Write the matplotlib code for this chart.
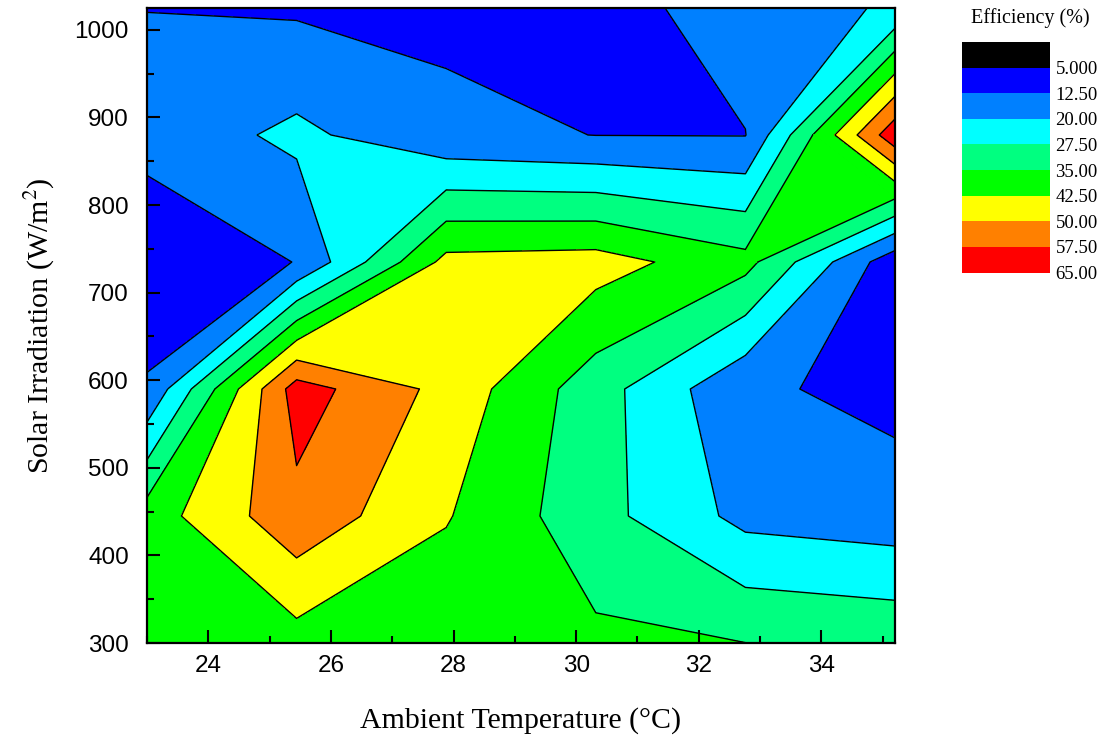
import numpy as np
import matplotlib
matplotlib.use("Agg")
import matplotlib.pyplot as plt
from matplotlib.patches import Polygon
from matplotlib.ticker import MultipleLocator

plt.rcParams["font.family"] = ["Liberation Sans", "DejaVu Sans"]
plt.rcParams["mathtext.fontset"] = "stix"

# measurement grid
temperature = [23.0, 25.44, 27.88, 30.32, 32.76, 35.2]  # ambient temperature (C)
irradiation = [300, 445, 590, 735, 880, 1025]  # solar irradiation (W/m2)

# efficiency (%) - one list per irradiation row, one value per temperature
eff_300 = [37.0, 39.45, 36.9, 36.5, 35.05, 33.4]
eff_445 = [38.7, 55.2, 43.06, 30.2, 17.8, 15.85]
eff_590 = [13.4, 61.0, 47.6, 30.8, 13.7, 10.4]
eff_735 = [6.5, 12.7, 44.8, 45.75, 37.5, 7.5]
eff_880 = [15.3, 21.7, 14.3, 12.4, 12.3, 62.8]
eff_1025 = [12.4, 11.5, 10.86, 9.05, 16.5, 20.8]

# contour levels and the legend text for them
levels = [0, 5, 12.5, 20, 27.5, 35, 42.5, 50, 57.5, 65]
level_labels = ["5.000", "12.50", "20.00", "27.50", "35.00", "42.50", "50.00", "57.50", "65.00"]

level_colors = ["#000000", "#0000FF", "#0080FF", "#00FFFF", "#00FF80",
                "#00FF00", "#FFFF00", "#FF8000", "#FF0000"]

X, Y = np.meshgrid(temperature, irradiation)
Z = np.array([eff_300, eff_445, eff_590, eff_735, eff_880, eff_1025])

fig = plt.figure(figsize=(11.1, 7.42), dpi=100)
ax = fig.add_axes([147 / 1110, 99 / 742, 748 / 1110, 635 / 742])

cs = ax.contourf(X, Y, Z, levels=levels, colors=level_colors)
ax.contour(X, Y, Z, levels=levels, colors="black", linewidths=1.0)


def edge_cross(i0, j0, i1, j1, lev):
    # where the level crosses the grid edge between two nodes (linear)
    z0, z1 = Z[j0, i0], Z[j1, i1]
    t = (lev - z0) / (z1 - z0)
    return (X[j0, i0] + t * (X[j1, i1] - X[j0, i0]),
            Y[j0, i0] + t * (Y[j1, i1] - Y[j0, i0]))


# saddle cell (32.76-35.2 C, 735-880 W/m2): the original plot joins the two
# high corners at 35 %, matplotlib splits them -> redo that band there
i, j, lev = 4, 3, 35
left = edge_cross(i, j, i, j + 1, lev)
top = edge_cross(i, j + 1, i + 1, j + 1, lev)
right = edge_cross(i + 1, j, i + 1, j + 1, lev)
bottom = edge_cross(i, j, i + 1, j, lev)
green = level_colors[5]
ax.add_patch(Polygon([left, top, right, bottom], closed=True, facecolor=green,
                     edgecolor="none", zorder=3))
# paint over the two split lines, then draw the joined ones
ax.plot([top[0], right[0]], [top[1], right[1]], color=green, linewidth=2.2,
        solid_capstyle="butt", zorder=3)
ax.plot([left[0], bottom[0]], [left[1], bottom[1]], color=green, linewidth=2.2,
        solid_capstyle="butt", zorder=3)
ax.plot([left[0], top[0]], [left[1], top[1]], color="black", linewidth=1.0, zorder=4)
ax.plot([bottom[0], right[0]], [bottom[1], right[1]], color="black", linewidth=1.0, zorder=4)

ax.set_xlim(23, 35.2)
ax.set_ylim(300, 1025)
ax.xaxis.set_major_locator(MultipleLocator(2))
ax.xaxis.set_minor_locator(MultipleLocator(1))
ax.yaxis.set_major_locator(MultipleLocator(100))
ax.yaxis.set_minor_locator(MultipleLocator(50))
ax.tick_params(which="both", direction="in", top=False, right=False, width=1.5, labelsize=17.5)
ax.tick_params(which="major", length=9.5)
ax.tick_params(which="minor", length=5)
ax.tick_params(axis="x", pad=9)
ax.tick_params(axis="y", pad=13)
for side in ax.spines.values():
    side.set_linewidth(1.6)
    side.set_zorder(5)

ax.set_xlabel("Ambient Temperature (\u00b0C)", family="Liberation Serif", fontsize=21.5, labelpad=21)
ax.set_ylabel("Solar Irradiation (W/m$^2$)", family="Liberation Serif", fontsize=21.5, labelpad=13)

# colour scale on the right, black box on top
cax = fig.add_axes([962 / 1110, (742 - 272.5) / 742, 88 / 1110, 230.5 / 742])
cbar = fig.colorbar(cs, cax=cax)
cbar.outline.set_visible(False)
cbar.set_ticks(levels[1:], labels=level_labels)
cax.invert_yaxis()
cax.tick_params(length=0, pad=4, labelsize=13.5)
for t in cax.get_yticklabels():
    t.set_fontfamily("Liberation Serif")
fig.text(1030 / 1110, 1 - 18 / 742, "Efficiency (%)", ha="center", va="center",
         family="Liberation Serif", fontsize=14.5)

fig.savefig("out.png", dpi=100)
